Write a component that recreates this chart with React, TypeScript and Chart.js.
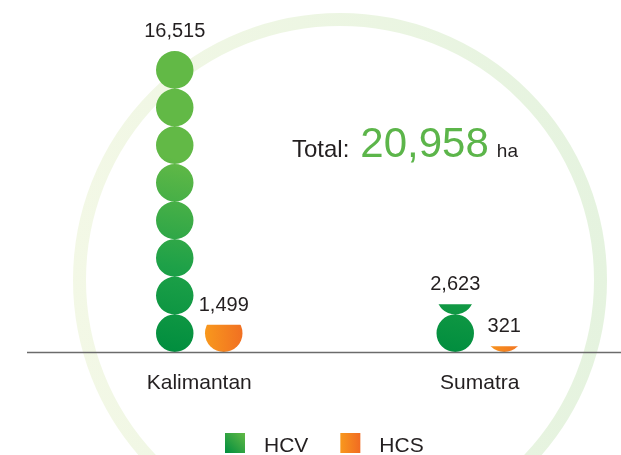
import { useEffect, useRef } from 'react';
import { Chart, registerables } from 'chart.js';

Chart.register(...registerables);

const categories = ['Kalimantan', 'Sumatra'];
const seriesNames = ['HCV', 'HCS'];
const hcvValues = [16515, 2623];
const hcsValues = [1499, 321];
const haPerIcon = 2064;
const totalLabel = 'Total:';
const unitLabel = 'ha';

const FONT = '"Liberation Sans", Arial, Helvetica, sans-serif';
const TEXT = '#231f20';

const fmt = (v: number) => v.toLocaleString('en-US');

function greenGrad(ctx: CanvasRenderingContext2D, x: number, w: number, base: number) {
  const g = ctx.createLinearGradient(x - w / 2, base, x + w / 2, base - 190);
  g.addColorStop(0, '#008d3e');
  g.addColorStop(0.45, '#1ea148');
  g.addColorStop(1, '#62b946');
  return g;
}

function orangeGrad(ctx: CanvasRenderingContext2D, x: number, w: number) {
  const g = ctx.createLinearGradient(x - w / 2, 0, x + w / 2, 0);
  g.addColorStop(0, '#f8981d');
  g.addColorStop(1, '#f17022');
  return g;
}

const pictoPlugin = {
  id: 'picto',
  beforeDatasetsDraw(chart: any) {
    const { ctx } = chart;
    ctx.save();
    const rg = ctx.createLinearGradient(70, 0, 610, 0);
    rg.addColorStop(0, '#f3f8e6');
    rg.addColorStop(1, '#e5f3df');
    ctx.beginPath();
    ctx.arc(340, 280, 260.5, 0, Math.PI * 2);
    ctx.strokeStyle = rg;
    ctx.lineWidth = 13;
    ctx.stroke();
    ctx.restore();
  },
  afterDatasetsDraw(chart: any) {
    const { ctx } = chart;
    const yScale = chart.scales.y;
    const xScale = chart.scales.x;
    const base = yScale.getPixelForValue(0);
    const d = base - yScale.getPixelForValue(haPerIcon);

    chart.data.datasets.forEach((ds: any, di: number) => {
      const meta = chart.getDatasetMeta(di);
      meta.data.forEach((el: any, i: number) => {
        const { x, y, width } = el.getProps(['x', 'y', 'width'], true);
        ctx.save();
        ctx.beginPath();
        ctx.rect(x - width / 2 - 1, y, width + 2, base - y);
        ctx.clip();
        ctx.fillStyle = di === 0 ? greenGrad(ctx, x, width, base) : orangeGrad(ctx, x, width);
        ctx.beginPath();
        for (let k = 0; base - k * d > y + 0.01; k++) {
          const cy = base - (k + 0.5) * d;
          ctx.moveTo(x + width / 2, cy);
          ctx.ellipse(x, cy, width / 2, d / 2, 0, 0, Math.PI * 2);
        }
        ctx.fill();
        ctx.restore();

        ctx.save();
        ctx.font = `20px ${FONT}`;
        ctx.fillStyle = TEXT;
        ctx.textAlign = 'center';
        ctx.textBaseline = 'alphabetic';
        ctx.fillText(fmt(ds.data[i]), x, y - 14);
        ctx.restore();
      });
    });

    // baseline
    ctx.save();
    ctx.fillStyle = '#6b6b6b';
    ctx.fillRect(27, base - 0.25, chart.width - 27, 1.5);
    // category labels
    ctx.font = `21px ${FONT}`;
    ctx.fillStyle = TEXT;
    ctx.textAlign = 'center';
    ctx.textBaseline = 'alphabetic';
    categories.forEach((c, i) => {
      ctx.fillText(c, xScale.getPixelForValue(i), base + 37);
    });
    ctx.restore();
  },
  afterDraw(chart: any) {
    const { ctx } = chart;
    ctx.save();
    ctx.textBaseline = 'alphabetic';
    ctx.textAlign = 'left';
    // total
    const total = [...hcvValues, ...hcsValues].reduce((a, b) => a + b, 0);
    let tx = 292;
    const ty = 157;
    ctx.font = `24px ${FONT}`;
    ctx.fillStyle = TEXT;
    ctx.fillText(totalLabel, tx, ty);
    tx += ctx.measureText(totalLabel).width + 11;
    ctx.font = `42px ${FONT}`;
    ctx.fillStyle = '#5cb54a';
    ctx.fillText(fmt(total), tx, ty);
    tx += ctx.measureText(fmt(total)).width + 8;
    ctx.font = `19px ${FONT}`;
    ctx.fillStyle = TEXT;
    ctx.fillText(unitLabel, tx, ty);

    // legend
    let lx = 225;
    const ly = 433;
    ctx.font = `21px ${FONT}`;
    seriesNames.forEach((name, i) => {
      let g;
      if (i === 0) {
        g = ctx.createLinearGradient(lx, ly + 20, lx + 20, ly);
        g.addColorStop(0, '#008d3e');
        g.addColorStop(1, '#62b946');
      } else {
        g = ctx.createLinearGradient(lx, 0, lx + 20, 0);
        g.addColorStop(0, '#f8981d');
        g.addColorStop(1, '#f16b22');
      }
      ctx.fillStyle = g;
      ctx.fillRect(lx, ly, 20, 20);
      lx += 20 + 19;
      ctx.fillStyle = TEXT;
      ctx.fillText(name, lx, ly + 18.5);
      lx += ctx.measureText(name).width + 32;
    });
    ctx.restore();
  },
};

export default function App() {
  const ref = useRef<HTMLCanvasElement | null>(null);
  useEffect(() => {
    if (!ref.current) return;
    const chart = new Chart(ref.current, {
      type: 'bar',
      data: {
        labels: categories,
        datasets: [
          {
            label: seriesNames[0],
            data: hcvValues,
            backgroundColor: 'rgba(0,0,0,0)',
            categoryPercentage: 0.3494,
            barPercentage: 0.765,
          },
          {
            label: seriesNames[1],
            data: hcsValues,
            backgroundColor: 'rgba(0,0,0,0)',
            categoryPercentage: 0.3494,
            barPercentage: 0.765,
          },
        ],
      },
      options: {
        responsive: false,
        animation: false,
        layout: { padding: { left: 59, right: 1, top: 24, bottom: 103 } },
        plugins: { legend: { display: false }, tooltip: { enabled: false } },
        scales: {
          x: { display: false },
          y: { display: false, min: 0, max: 18000 },
        },
      },
      plugins: [pictoPlugin],
    } as any);
    return () => chart.destroy();
  }, []);
  return (
    <div style={{ position: 'fixed', left: 0, top: 0, width: 621, height: 455, background: '#fff' }}>
      <canvas ref={ref} width={621} height={455} style={{ display: 'block' }} />
    </div>
  );
}
